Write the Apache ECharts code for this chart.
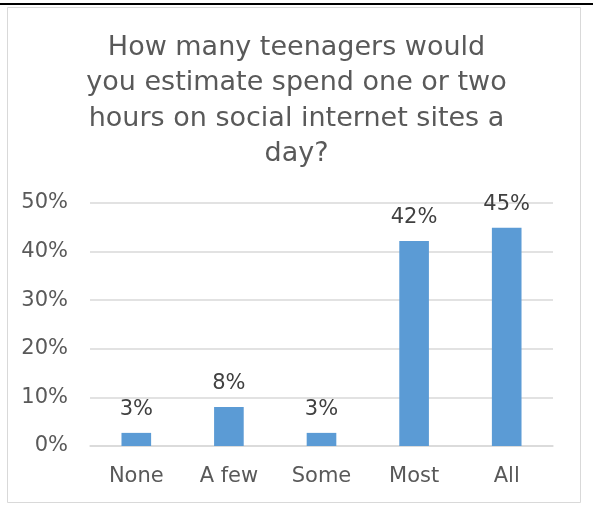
<!DOCTYPE html>
<html><head><meta charset="utf-8">
<script src="https://cdn.jsdelivr.net/npm/echarts@6/dist/echarts.min.js"></script>
<style>html,body{margin:0;padding:0;background:#fff}#c{width:593px;height:506px}</style>
</head><body><div id="c"></div>
<script>
const titleText = "How many teenagers would\nyou estimate spend one or two\nhours on social internet sites a\nday?";
const categories = ["None", "A few", "Some", "Most", "All"];
const values = [2.7, 8.0, 2.7, 42.2, 44.9];
const yTicks = [0, 10, 20, 30, 40, 50];

const chart = echarts.init(document.getElementById('c'), null, {renderer: 'canvas'});
const font = 'DejaVu Sans';
chart.setOption({
  animation: false,
  backgroundColor: '#fff',
  title: {
    text: titleText,
    left: 'center',
    top: 25,
    textStyle: {fontFamily: font, fontWeight: 'normal', fontSize: 27, color: '#595959', lineHeight: 35.5}
  },
  graphic: [
    {type: 'rect', shape: {x: 7.5, y: 7.5, width: 573, height: 495}, style: {fill: 'none', stroke: '#d9d9d9', lineWidth: 1}},
    {type: 'line', shape: {x1: 0, y1: 4, x2: 593, y2: 4}, style: {stroke: '#000', lineWidth: 2}}
  ],
  grid: {left: 90, right: 40, top: 203, bottom: 60},
  xAxis: {
    type: 'category', data: categories,
    axisTick: {show: false},
    axisLine: {lineStyle: {color: '#d9d9d9', width: 1.5}},
    axisLabel: {fontFamily: font, fontSize: 21, color: '#595959', margin: 20}
  },
  yAxis: {
    type: 'value', min: yTicks[0], max: yTicks[yTicks.length - 1], interval: 10,
    axisLabel: {fontFamily: font, fontSize: 21, color: '#595959', margin: 22, formatter: v => v + '%'},
    splitLine: {lineStyle: {color: '#d9d9d9', width: 1.5}},
    axisLine: {show: false}, axisTick: {show: false}
  },
  series: [{
    type: 'bar', data: values, barWidth: '32%',
    itemStyle: {color: '#5b9bd5'},
    label: {show: true, position: 'top', distance: 13, fontFamily: font, fontSize: 21, color: '#404040',
      formatter: p => Math.round(p.value) + '%'}
  }]
});
</script></body></html>
